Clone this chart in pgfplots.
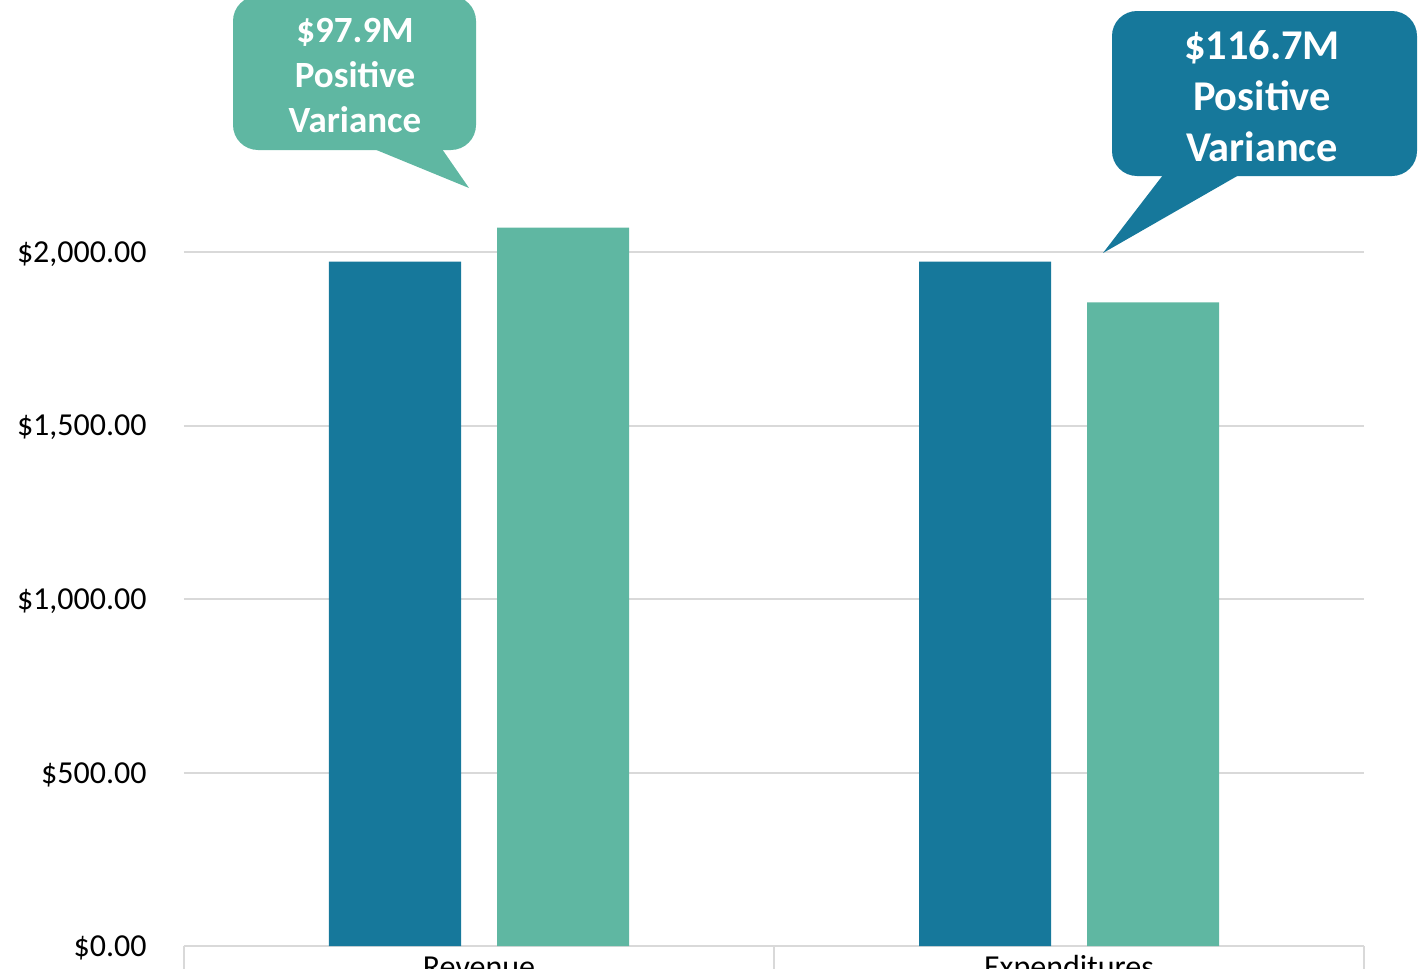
\documentclass[border=0pt]{standalone}
\usepackage{pgfplots}
\pgfplotsset{compat=1.18}
\usepackage{fontspec}
\setmainfont{Carlito}
\definecolor{cblue}{RGB}{22,120,155}
\definecolor{cgreen}{RGB}{95,183,162}
\definecolor{cgrid}{RGB}{217,217,217}
\begin{document}
\begin{tikzpicture}
\begin{axis}[
  at={(92pt,-473pt)}, anchor=south west,
  scale only axis, width=590pt, height=347pt,
  xmin=0.5, xmax=2.5, ymin=0, ymax=2000,
  ytick={0,500,1000,1500,2000},
  yticklabels={{\$0.00},{\$500.00},{\$1,000.00},{\$1,500.00},{\$2,000.00}},
  xtick={1,2}, xticklabels={Revenue,Expenditures},
  ymajorgrids, grid style={cgrid, line width=1pt},
  axis x line*=bottom, axis y line*=left,
  x axis line style={cgrid, line width=1pt, -},
  y axis line style={draw=none},
  major tick length=0pt,
  clip=false,
  bar width=66pt,
  yticklabel style={font=\fontsize{16}{18}\selectfont, anchor=east, inner sep=0pt, xshift=-18.5pt, yshift=-1pt},
  xticklabel style={font=\fontsize{16}{18}\selectfont, anchor=base, inner sep=0pt, yshift=-15.5pt},
]
\addplot[ybar, fill=cblue, draw=none, bar shift=-42pt] coordinates {(1,1972) (2,1972)};
\addplot[ybar, fill=cgreen, draw=none, bar shift=42pt] coordinates {(1,2070) (2,1855)};
\draw[cgrid, line width=1pt] (axis cs:0.5,0) -- ++(0pt,-20pt);
\draw[cgrid, line width=1pt] (axis cs:1.5,0) -- ++(0pt,-20pt);
\draw[cgrid, line width=1pt] (axis cs:2.5,0) -- ++(0pt,-20pt);
\end{axis}
\begin{scope}[x=0.5pt, y=-0.5pt]
  \fill[cgreen, rounded corners=12.5pt] (233,-4) rectangle (476,150);
  \fill[cgreen] (374,149) -- (469,188) -- (442,149) -- cycle;
  \node[text=white, font=\bfseries\fontsize{18.5}{22.5}\selectfont, align=center, inner sep=0pt] at (355,76) {\$97.9M\\Positive\\Variance};
  \fill[cblue, rounded corners=12.5pt] (1112,11) rectangle (1417,176);
  \fill[cblue] (1163,175) -- (1103,253) -- (1239,175) -- cycle;
  \node[text=white, font=\bfseries\fontsize{21.2}{25.5}\selectfont, align=center, inner sep=0pt] at (1262,96) {\$116.7M\\Positive\\Variance};
\end{scope}
\pgfresetboundingbox
\path[use as bounding box] (0,0) rectangle (713pt,-484.5pt);
\end{tikzpicture}
\end{document}
